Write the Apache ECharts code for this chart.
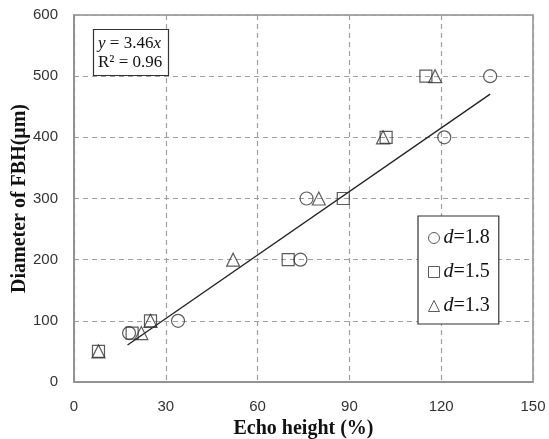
<!DOCTYPE html>
<html>
<head>
<meta charset="utf-8">
<script src="https://cdn.jsdelivr.net/npm/echarts@6/dist/echarts.min.js"></script>
<style>html,body{margin:0;padding:0;background:#fff;}#c{width:549px;height:439px;}</style>
</head>
<body>
<div id="c"></div>
<script>
// Data
const d18X = [18, 34, 74, 76, 121, 136];
const d18Y = [80, 100, 200, 300, 400, 500];
const d15X = [8, 19, 25, 70, 88, 102, 115];
const d15Y = [50, 80, 100, 200, 300, 400, 500];
const d13X = [8, 22, 25, 52, 80, 101, 118];
const d13Y = [50, 80, 100, 200, 300, 400, 500];
const trendX = [17.5, 136];
const trendY = [60.5, 470.6];
const xTicks = [0, 30, 60, 90, 120, 150];
const yTicks = [0, 100, 200, 300, 400, 500, 600];

const zip = (xs, ys) => xs.map((x, i) => [x, ys[i]]);
const mk = {color: 'rgba(0,0,0,0)', borderColor: '#333', borderWidth: 1.2};
const serif = 'Liberation Serif';
const sans = 'Liberation Sans';

const chart = echarts.init(document.getElementById('c'));
chart.setOption({
  animation: false,
  backgroundColor: '#fff',
  grid: {left: 74, right: 16, top: 15, bottom: 57, show: true, borderColor: '#8c8c8c', borderWidth: 1.5,
    containLabel: false, outerBoundsMode: 'none'},
  title: {
    text: '{i|y} = 3.46{i|x}\nR² = 0.96',
    left: 93, top: 29,
    padding: [5, 6, 4, 5],
    borderColor: '#333', borderWidth: 1.2, backgroundColor: '#fff',
    textStyle: {
      fontFamily: serif, fontSize: 17, fontWeight: 'normal', color: '#111', lineHeight: 19,
      rich: {i: {fontFamily: serif, fontSize: 17, fontStyle: 'italic', color: '#111', lineHeight: 19}}
    }
  },
  legend: {
    orient: 'vertical', left: 418, top: 216,
    padding: [12, 9, 8, 10],
    itemGap: 14, itemWidth: 11, itemHeight: 11,
    borderColor: '#333', borderWidth: 1.2, backgroundColor: '#fff',
    data: ['d=1.8', 'd=1.5', 'd=1.3'],
    formatter: n => '{i|d}{n|' + n.slice(1) + '}',
    itemStyle: {borderWidth: 1},
    textStyle: {
      padding: [0, 0, 0, -1],
      rich: {
        i: {fontFamily: serif, fontSize: 20, fontStyle: 'italic', color: '#111'},
        n: {fontFamily: serif, fontSize: 20, color: '#111'}
      }
    }
  },
  xAxis: {
    type: 'value', min: 0, max: 150, interval: 30,
    name: 'Echo height (%)', nameLocation: 'middle', nameGap: 37, nameMoveOverlap: false,
    nameTextStyle: {fontFamily: serif, fontSize: 20, fontWeight: 'bold', color: '#111'},
    axisLine: {show: true, lineStyle: {color: '#8c8c8c', width: 1.5}},
    axisTick: {show: false},
    axisLabel: {fontFamily: sans, fontSize: 15, color: '#333', margin: 17,
      formatter: v => xTicks.includes(v) ? String(v) : ''},
    splitLine: {show: true, lineStyle: {color: '#a0a0a0', type: [5, 4], width: 1.2}}
  },
  yAxis: {
    type: 'value', min: 0, max: 600, interval: 100,
    name: 'Diameter of FBH(μm)', nameLocation: 'middle', nameGap: 44, nameMoveOverlap: false,
    nameTextStyle: {fontFamily: serif, fontSize: 20, fontWeight: 'bold', color: '#111'},
    axisLine: {show: true, lineStyle: {color: '#8c8c8c', width: 1.5}},
    axisTick: {show: false},
    axisLabel: {fontFamily: sans, fontSize: 15, color: '#333', margin: 16,
      formatter: v => yTicks.includes(v) ? String(v) : ''},
    splitLine: {show: true, lineStyle: {color: '#a0a0a0', type: [5, 4], width: 1.2}}
  },
  series: [
    {name: 'trend', type: 'line', data: zip(trendX, trendY), symbol: 'none',
      lineStyle: {color: '#222', width: 1.3}, silent: true, z: 1},
    {name: 'd=1.8', type: 'scatter', symbol: 'circle', symbolSize: 13, data: zip(d18X, d18Y), itemStyle: mk, z: 3},
    {name: 'd=1.5', type: 'scatter', symbol: 'rect', symbolSize: 12, data: zip(d15X, d15Y), itemStyle: mk, z: 3},
    {name: 'd=1.3', type: 'scatter', symbol: 'triangle', symbolSize: 13, data: zip(d13X, d13Y), itemStyle: mk, z: 3}
  ]
});
</script>
</body>
</html>
